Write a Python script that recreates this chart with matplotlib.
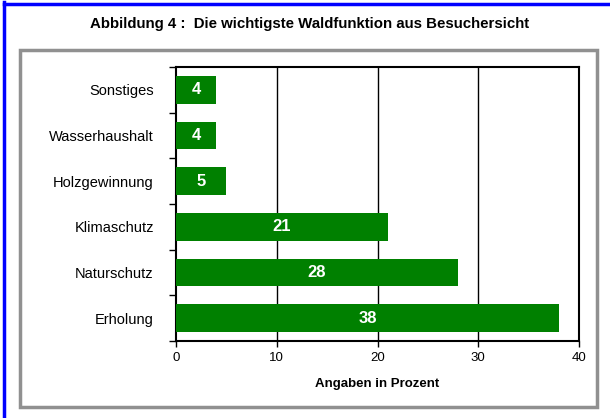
import matplotlib
matplotlib.use("Agg")
import matplotlib.pyplot as plt
from matplotlib.patches import Rectangle
from matplotlib.lines import Line2D

categories = ["Sonstiges", "Wasserhaushalt", "Holzgewinnung", "Klimaschutz", "Naturschutz", "Erholung"]
values = [4, 4, 5, 21, 28, 38]
xticks = [0, 10, 20, 30, 40]
title = "Abbildung 4 :  Die wichtigste Waldfunktion aus Besuchersicht"
xlabel = "Angaben in Prozent"

plt.rcParams['font.family'] = ['Liberation Sans', 'DejaVu Sans']

W, H = 610, 418
fig = plt.figure(figsize=(W / 100, H / 100), dpi=100)

# outer blue border (top & left)
fig.add_artist(Line2D([4 / W, 4 / W], [0, 1 - 2 / H], color="#0000FF", lw=2.5, transform=fig.transFigure))
fig.add_artist(Line2D([4 / W, 1], [1 - 3.5 / H, 1 - 3.5 / H], color="#0000FF", lw=2.5, transform=fig.transFigure))

# grey frame
fig.add_artist(Rectangle((20 / W, 1 - 407 / H), 577 / W, 357 / H, transform=fig.transFigure,
                         fill=False, edgecolor="#909090", lw=2.5))

fig.text(310 / W, 1 - 24 / H, title, ha="center", va="center", fontsize=10.8, fontweight="bold")

ax = fig.add_axes([176 / W, 1 - 341 / H, 403 / W, 274 / H])
n = len(categories)
ypos = [n - 1 - i for i in range(n)]
ax.barh(ypos, values, height=0.6, color="#008000", zorder=3)
for y, v in zip(ypos, values):
    ax.text(v / 2, y, str(v), ha="center", va="center", color="white", fontsize=12, fontweight="bold", zorder=4)

ax.set_xlim(0, 40)
ax.set_ylim(-0.5, n - 0.5)
ax.set_xticks(xticks)
ax.set_xticklabels([str(t) for t in xticks], fontsize=9.5)
ax.set_yticks(ypos)
ax.set_yticklabels(categories, fontsize=10.5)
ax.set_yticks([i - 0.5 for i in range(n + 1)], minor=True)
ax.tick_params(axis="y", which="major", length=0, pad=16)
ax.tick_params(axis="y", which="minor", length=5, width=1, direction="out")
ax.tick_params(axis="x", which="major", length=4, width=1, direction="out", pad=4)
for xv in xticks[1:-1]:
    ax.axvline(xv, color="black", lw=1, zorder=1)
for s in ax.spines.values():
    s.set_color("black")
    s.set_linewidth(1.5)
ax.set_xlabel(xlabel, fontsize=9.5, fontweight="bold", labelpad=10)

fig.savefig("out.png", dpi=100)
